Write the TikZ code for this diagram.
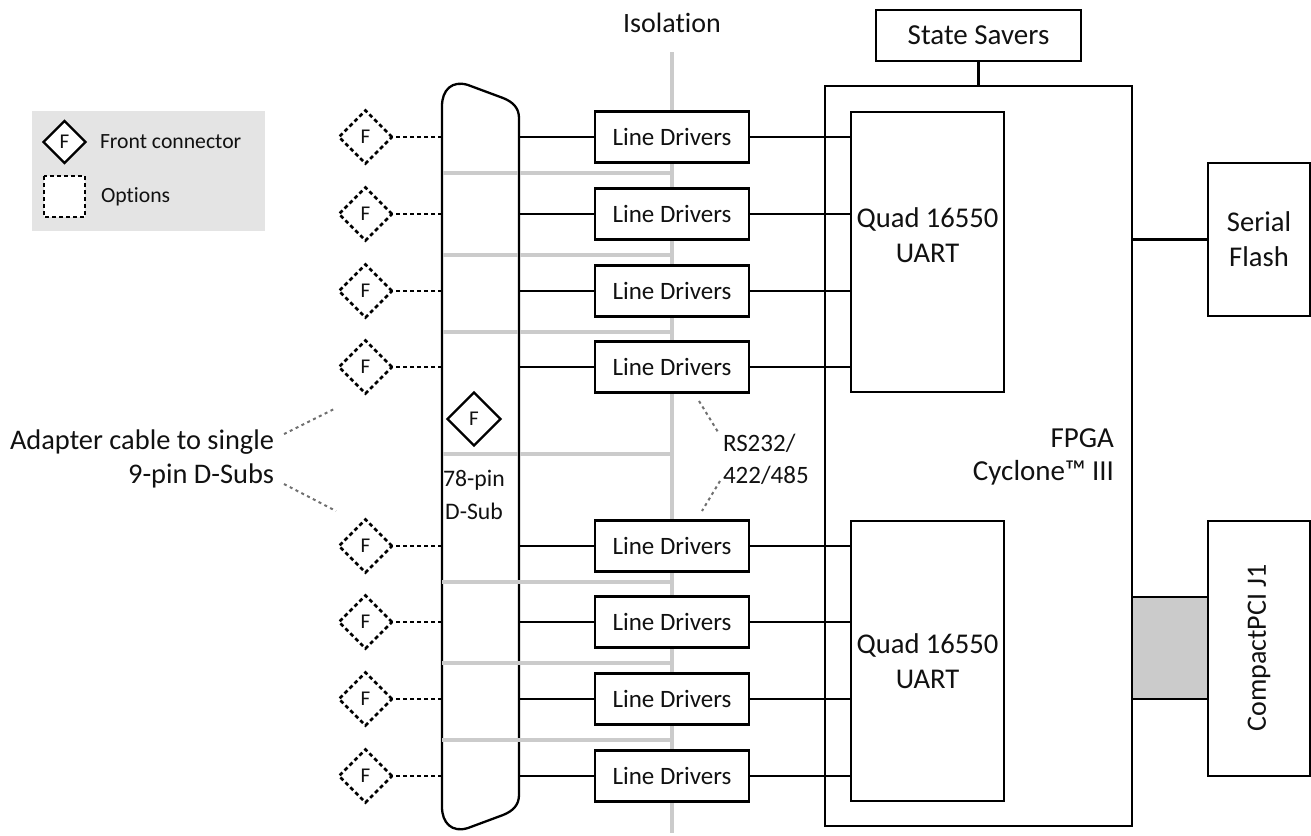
\documentclass[tikz,border=0pt]{standalone}
\usepackage{fontspec}
\setmainfont[Ligatures=NoCommon]{Carlito}
\usetikzlibrary{shapes.geometric,calc}
\newcommand{\fs}[1]{\fontsize{#1}{#1}\selectfont}
\tikzset{
 box/.style={draw=black,fill=white,line width=2.3pt,rectangle,inner sep=0pt,outer sep=0pt,align=center,text=txtc},
 driver/.style={box,minimum width=154pt,minimum height=51pt,font=\fs{25}},
 uart/.style={box,minimum width=153pt,minimum height=280pt},
 fdiam/.style={diamond,aspect=1,draw=black,fill=white,line width=2.3pt,inner sep=0pt,outer sep=0pt,minimum width=53pt,minimum height=53pt,font=\fs{21},text=txtc},
 opt/.style={fdiam,line width=2.5pt,dash pattern=on 4pt off 3pt},
 wire/.style={draw=black,line width=2.6pt},
 optwire/.style={draw=black,line width=2.8pt,dash pattern=on 4pt off 3pt},
 isoline/.style={draw=isoc,line width=4pt},
 note/.style={draw=notec,line width=2pt,dash pattern=on 3pt off 3.5pt},
 lab/.style={inner sep=0pt,outer sep=0pt,align=center,text=txtc},
}
\definecolor{isoc}{HTML}{CBCBCB}
\definecolor{notec}{HTML}{707070}
\definecolor{txtc}{HTML}{111111}
\definecolor{legc}{HTML}{E4E4E4}
\begin{document}
\begin{tikzpicture}[x=1pt,y=-1pt]
\useasboundingbox (0,0) rectangle (1311,835);
% legend
\fill[legc] (32,111) rectangle (265,231);
\node[fdiam,minimum width=42pt,minimum height=42pt,font=\fs{21}] (legf) at (64.5,142) {F};
\draw[optwire,fill=white] (44,176) rectangle (85,217);
\node[lab,anchor=west,font=\fs{21.7}] (legft) at (100,142) {Front connector};
\node[lab,anchor=west,font=\fs{21.7}] (legot) at (101,197) {Options};
% isolation
\coordinate (isotop) at (672,52);
\coordinate (isobot) at (672,833);
\draw[isoline] (isotop) -- (isobot);
\node[lab,font=\fs{28}] (isol) at (672,23) {Isolation};
% D-Sub
\node[inner sep=0pt,outer sep=0pt,minimum width=77pt,minimum height=745pt] (dsub) at (480.5,456.5) {};
\path[draw=black,line width=2.3pt,fill=white] (442,106) .. controls (442,90) and (452,80) .. (468,85)
 -- (503,98) .. controls (513,102) and (519,108) .. (519,118)
 -- (519,795) .. controls (519,805) and (513,811) .. (503,815)
 -- (468,828) .. controls (452,833) and (442,823) .. (442,807) -- cycle;
\foreach \y in {173,255,332,454,582,663,740}{
  \coordinate (g) at (672,\y);
  \draw[isoline] (g -| dsub.west) -- (g);
}
\path[draw=black,line width=2.3pt] (519,118) -- (519,500);
\path[draw=black,line width=2.3pt] (442,106) -- (442,500);
\node[fdiam] (dfront) at (474,419) {F};
\node[lab,font=\fs{23.7},align=center] (dlab) at (474,495) {78-pin\\[9.3pt]D-Sub};
% FPGA
\node[box,minimum width=307pt,minimum height=740pt] (fpga) at (978.5,456) {};
\node[lab,font=\fs{29},align=right,anchor=east] (fpgal) at (1114,457) {FPGA\\[4.5pt]Cyclone™ III};
\node[uart] (q1) at (927.5,252) {};
\node[lab,font=\fs{28.6}] (q1l) at (927.5,235) {Quad 16550\\[6.4pt]UART};
\node[uart] (q2) at (927.5,661) {};
\node[lab,font=\fs{28.6}] (q2l) at (927.5,661) {Quad 16550\\[6.4pt]UART};
\node[box,minimum width=205pt,minimum height=51pt,font=\fs{29}] (ss) at (978.5,35.5) {State Savers};
\draw[wire] (ss.south) -- (ss.south |- fpga.north);
\node[box,minimum width=102pt,minimum height=153pt,font=\fs{28.6}] (flash) at (1259,239.5) {Serial\\[6.4pt]Flash};
\draw[wire] (flash.west) -- (flash.west -| fpga.east);
\node[box,minimum width=102pt,minimum height=255pt] (pci) at (1259,648.5) {};
\node[lab,font=\fs{28},rotate=90] (pcil) at (1259,648) {CompactPCI J1};
\node[box,fill=isoc,draw=none,minimum width=76pt,minimum height=102pt] (bus) at (1170,648) {};
\draw[wire] (bus.north west) -- (bus.north east);
\draw[wire] (bus.south west) -- (bus.south east);
\draw[wire] (bus.north west) -- (bus.south west);
\draw[wire] (bus.north east) -- (bus.south east);
% rows
\foreach \n/\y/\q in {1/137/q1,2/214/q1,3/291/q1,4/367/q1,5/546/q2,6/622/q2,7/699/q2,8/776/q2}{
  \node[driver] (ld\n) at (672,\y) {Line Drivers};
  \node[opt] (f\n) at (365.5,\y) {F};
  \draw[optwire] (f\n.east -| dsub.west) -- (f\n.east);
  \draw[wire] (ld\n.west -| dsub.east) -- (ld\n.west);
  \draw[wire] (ld\n.east) -- (ld\n.east -| \q.west);
}
% notes
\node[lab,font=\fs{28.4},align=right,anchor=east] (adapt) at (274,459) {Adapter cable to single\\[5.6pt]9-pin D-Subs};
\coordinate (n1) at (336,408); \coordinate (n2) at (336,511);
\coordinate (a1) at (284,434); \coordinate (a2) at (284,484);
\draw[note] (a1) -- (n1);
\draw[note] (a2) -- (n2);
\node[lab,font=\fs{25},align=left,anchor=west] (rs) at (723,459) {RS232/\\[7pt]422/485};
\coordinate (r1) at (699,401); \coordinate (r2) at (718,432);
\coordinate (r3) at (720,481); \coordinate (r4) at (702,511);
\draw[note] (r1) -- (r2);
\draw[note] (r3) -- (r4);
\end{tikzpicture}
\end{document}
